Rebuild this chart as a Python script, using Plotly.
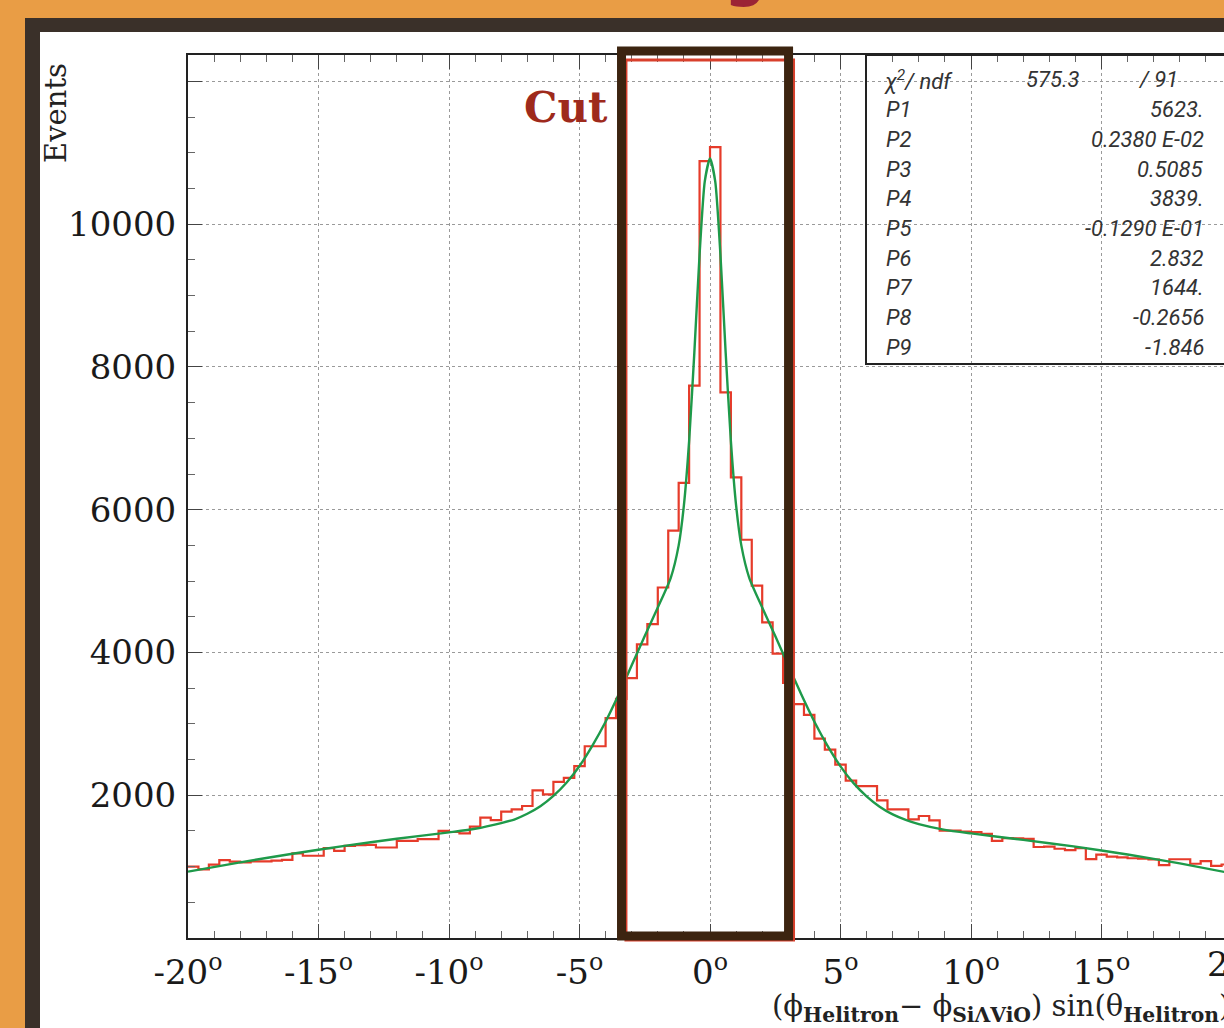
import plotly.graph_objects as go

# ---------------- data ----------------
bin_low = -20.0
bin_width = 0.4
hist_counts = [
    999, 960, 1027, 1091, 1070, 1060, 1073, 1073, 1085, 1095,
    1185, 1152, 1152, 1259, 1221, 1291, 1300, 1305, 1268, 1268,
    1361, 1361, 1384, 1384, 1501, 1485, 1467, 1560, 1686, 1650,
    1770, 1803, 1849, 2067, 2011, 2188, 2244, 2407, 2686, 2686,
    3080, 3350, 3641, 4113, 4396, 4910, 5707, 6376, 7738, 10884,
    11080, 7645, 6453, 5579, 4936, 4422, 3985, 3574, 3275, 3126,
    2792, 2638, 2429, 2206, 2128, 2128, 1928, 1802, 1802, 1663,
    1709, 1649, 1505, 1505, 1491, 1482, 1459, 1361, 1400, 1395,
    1390, 1275, 1280, 1250, 1232, 1260, 1106, 1167, 1140, 1130,
    1117, 1112, 1100, 1020, 1103, 1103, 1040, 1076, 1010, 1030,
]

fit_x = [-20, -18, -16, -14, -12, -10, -9, -8, -7.5, -7, -6.5, -6, -5.5, -5, -4.5, -4,
         -3.5, -3, -2.5, -2, -1.5, -1.2, -1.0, -0.8, -0.6, -0.4, -0.2, 0,
         0.2, 0.4, 0.6, 0.8, 1.0, 1.2, 1.5, 2, 2.5, 3, 3.5, 4, 4.5, 5, 5.5, 6,
         6.5, 7, 7.5, 8, 9, 10, 12, 14, 16, 18, 20]
fit_y = [930, 1060, 1180, 1290, 1390, 1480, 1530, 1610, 1660, 1740, 1845, 1990, 2175, 2410, 2700, 3030,
         3410, 3820, 4230, 4630, 5050, 5500, 6060, 6960, 8200, 9570, 10600, 10920,
         10600, 9570, 8200, 6960, 6060, 5500, 5050, 4630, 4230, 3820, 3410, 3030, 2695, 2405, 2170, 1985,
         1840, 1732, 1655, 1595, 1515, 1465, 1375, 1280, 1170, 1045, 905]

x_tick_vals = [-20, -15, -10, -5, 0, 5, 10, 15]
x_tick_text = ["-20", "-15", "-10", "-5", "0", "5", "10", "15"]
y_tick_vals = [0, 2000, 4000, 6000, 8000, 10000, 12000]
y_tick_text = ["", "2000", "4000", "6000", "8000", "10000", ""]

stat_labels = ["P1", "P2", "P3", "P4", "P5", "P6", "P7", "P8", "P9"]
stat_values = ["5623.", "0.2380 E-02", "0.5085", "3839.", "-0.1290 E-01",
               "2.832", "1644.", "-0.2656", "-1.846"]
chi2_text = "575.3"
ndf_text = "/ 91"
cut_low, cut_high = -3.39, 3.01

# ---------------- geometry helpers ----------------
W, H = 1224, 1028
L, T, B = 188, 55, 938


def px(xp):
    return (xp - L) / (W - L)


def py(yp):
    return (B - yp) / (B - T)


# stairs for histogram
edges = [bin_low + bin_width * i for i in range(len(hist_counts) + 1)]
stair_x = edges
stair_y = hist_counts + [hist_counts[-1]]

fig = go.Figure()
fig.add_trace(go.Scatter(x=stair_x, y=stair_y, mode="lines",
                         line=dict(shape="hv", color="#e63b2a", width=2.2),
                         showlegend=False, hoverinfo="skip"))
fig.add_trace(go.Scatter(x=fit_x, y=fit_y, mode="lines",
                         line=dict(shape="spline", smoothing=0.6, color="#1e9a4a", width=2.4),
                         showlegend=False, hoverinfo="skip"))

serif = "DejaVu Serif"

shapes = [
    dict(type="rect", xref="paper", yref="paper", x0=px(25), x1=px(1240), y0=py(18), y1=py(1040),
         fillcolor="#3a3029", line=dict(width=0), layer="below"),
    dict(type="rect", xref="paper", yref="paper", x0=px(40), x1=px(1240), y0=py(32), y1=py(1040),
         fillcolor="white", line=dict(width=0), layer="below"),
    dict(type="rect", xref="paper", yref="paper", x0=px(866), x1=px(1240), y0=py(T), y1=py(364),
         fillcolor="rgba(0,0,0,0)", line=dict(color="#222", width=2), layer="above"),
    dict(type="rect", xref="x", yref="paper", x0=-3.22, x1=3.20, y0=py(940), y1=py(60),
         fillcolor="rgba(0,0,0,0)", line=dict(color="#d8402c", width=3), layer="above"),
    dict(type="rect", xref="x", yref="paper", x0=cut_low, x1=cut_high, y0=py(936), y1=py(51),
         fillcolor="rgba(0,0,0,0)", line=dict(color="#3c2410", width=9), layer="above"),
]

annotations = []
annotations.append(dict(text="Events", xref="paper", yref="paper", x=px(56), y=py(113),
                        textangle=-90, showarrow=False, font=dict(family=serif, size=29, color="#222"),
                        xanchor="center", yanchor="middle"))
annotations.append(dict(text="<b>Cut</b>", xref="paper", yref="paper", x=px(566), y=py(108),
                        showarrow=False, font=dict(family=serif, size=42, color="#9e2a1c"),
                        xanchor="center", yanchor="middle"))
annotations.append(dict(text="20<sup>o</sup>", xref="paper", yref="paper", x=px(1236), y=py(962),
                        showarrow=False, font=dict(family=serif, size=34, color="#1a1a1a"),
                        xanchor="center", yanchor="middle"))
annotations.append(dict(text="(ϕ<sub><b>Helitron</b></sub>− ϕ<sub><b>SiΛViO</b></sub>) sin(θ<sub><b>Helitron</b></sub>)",
                        xref="paper", yref="paper", x=px(770), y=py(1008),
                        showarrow=False, font=dict(family=serif, size=29, color="#222"),
                        xanchor="left", yanchor="middle"))
annotations.append(dict(text="<b>g</b>", xref="paper", yref="paper", x=px(745), y=py(12),
                        showarrow=False, font=dict(family="Noto Sans", size=62, color="#9b2335"),
                        xanchor="center", yanchor="bottom"))

stat_font = dict(family="Roboto", size=22, color="#333333", weight=400, style="italic")
row0 = 80
dy = 29.7
annotations.append(dict(text="χ<sup>2</sup>/ ndf", xref="paper", yref="paper", x=px(882), y=py(row0),
                        showarrow=False, font=stat_font, xanchor="left", yanchor="middle"))
annotations.append(dict(text=chi2_text, xref="paper", yref="paper", x=px(1082), y=py(row0),
                        showarrow=False, font=stat_font, xanchor="right", yanchor="middle"))
annotations.append(dict(text=ndf_text, xref="paper", yref="paper", x=px(1180), y=py(row0),
                        showarrow=False, font=stat_font, xanchor="right", yanchor="middle"))
for i, (lab, val) in enumerate(zip(stat_labels, stat_values)):
    yy = row0 + dy * (i + 1)
    annotations.append(dict(text=lab, xref="paper", yref="paper", x=px(884), y=py(yy),
                            showarrow=False, font=stat_font, xanchor="left", yanchor="middle"))
    annotations.append(dict(text=val, xref="paper", yref="paper", x=px(1206), y=py(yy),
                            showarrow=False, font=stat_font, xanchor="right", yanchor="middle"))

x_right = (W - 710) / 26.1

fig.update_layout(
    width=W, height=H,
    margin=dict(l=L, r=0, t=T, b=H - B, autoexpand=False),
    paper_bgcolor="#e99d45",
    plot_bgcolor="white",
    shapes=shapes,
    annotations=annotations,
    showlegend=False,
    xaxis=dict(
        range=[-20, x_right], tickvals=x_tick_vals,
        ticktext=[t + "<sup>o</sup>" for t in x_tick_text],
        showline=True, linecolor="#222", linewidth=2, mirror="ticks",
        ticks="inside", ticklen=14, tickcolor="#444", tickwidth=1,
        showgrid=True, gridcolor="#9a9a9a", griddash="dot", gridwidth=1.2,
        zeroline=False,
        minor=dict(dtick=1, ticks="inside", ticklen=7, tickcolor="#666", showgrid=False),
        tickfont=dict(family=serif, size=34, color="#1a1a1a"),
        ticklabelstandoff=3,
    ),
    yaxis=dict(
        range=[0, 12370], tickvals=y_tick_vals, ticktext=y_tick_text,
        showline=True, linecolor="#222", linewidth=2,
        ticks="inside", ticklen=14, tickcolor="#444", tickwidth=1,
        showgrid=True, gridcolor="#9a9a9a", griddash="dot", gridwidth=1.2,
        zeroline=False,
        minor=dict(dtick=500, ticks="inside", ticklen=7, tickcolor="#666", showgrid=False),
        tickfont=dict(family=serif, size=34, color="#1a1a1a"),
        ticklabelstandoff=3,
    ),
)

fig.write_html("out.html", config={"displayModeBar": False},
               post_script="document.body.style.margin='0';document.body.style.overflow='hidden';")
